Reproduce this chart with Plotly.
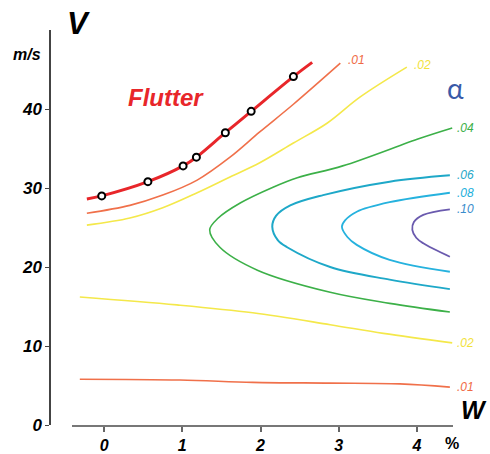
import plotly.graph_objects as go

# ---- data ----
x_ticks = [0, 1, 2, 3, 4]
y_ticks = [0, 10, 20, 30, 40]

flutter_x = [-0.22, -0.03, 0.56, 1.01, 1.18, 1.55, 1.88, 2.42, 2.66]
flutter_y = [28.6, 29.0, 30.8, 32.8, 33.9, 37.0, 39.7, 44.1, 45.9]
flutter_pts_x = [-0.03, 0.56, 1.01, 1.18, 1.55, 1.88, 2.42]
flutter_pts_y = [29.0, 30.8, 32.8, 33.9, 37.0, 39.7, 44.1]

a01_up_x = [-0.22, 0.33, 0.75, 1.19, 1.61, 1.99, 2.42, 3.02]
a01_up_y = [26.8, 27.8, 29.1, 31.0, 33.9, 37.1, 40.6, 45.8]

a02_up_x = [-0.22, 0.33, 0.75, 1.19, 1.61, 1.99, 2.42, 2.85, 3.27, 3.87]
a02_up_y = [25.3, 26.2, 27.5, 29.4, 31.4, 33.2, 35.7, 38.2, 41.5, 45.3]

a04_x = [4.45, 4.04, 3.05, 2.47, 2.16, 1.74, 1.46, 1.35, 1.48, 1.96, 2.89, 3.65, 4.42]
a04_y = [37.6, 36.3, 32.8, 31.3, 30.1, 28.1, 26.2, 24.7, 22.5, 19.6, 16.8, 15.4, 14.3]

a06_x = [4.42, 3.65, 2.80, 2.38, 2.20, 2.15, 2.22, 2.34, 2.89, 3.65, 4.42]
a06_y = [31.6, 30.8, 29.1, 27.8, 26.5, 25.1, 23.4, 22.5, 20.0, 18.4, 17.2]

a08_x = [4.42, 3.65, 3.23, 3.08, 3.04, 3.11, 3.23, 3.65, 4.42]
a08_y = [29.4, 28.2, 27.0, 25.9, 25.1, 23.8, 22.8, 20.9, 19.4]

a10_x = [4.42, 4.08, 3.96, 3.94, 3.99, 4.08, 4.42]
a10_y = [27.3, 26.6, 25.7, 24.7, 23.7, 23.0, 21.3]

a02_lo_x = [-0.31, 0.93, 1.90, 2.89, 3.57, 4.45]
a02_lo_y = [16.2, 15.2, 14.2, 12.7, 11.6, 10.4]

a01_lo_x = [-0.31, 0.97, 1.90, 2.89, 3.78, 4.42]
a01_lo_y = [5.8, 5.7, 5.4, 5.3, 5.2, 4.8]

labels = [".01", ".02", ".04", ".06", ".08", ".10", ".02", ".01"]
label_x = [3.09, 3.94, 4.49, 4.49, 4.49, 4.49, 4.49, 4.49]
label_y = [46.2, 45.6, 37.6, 31.6, 29.4, 27.3, 10.4, 4.8]
label_col = ["#f06a45", "#f2e23a", "#3cb048", "#1ea8c8", "#22b0dc", "#3a8ccc", "#f2e23a", "#f06a45"]

RED = "#e8262a"
ORANGE = "#f0704a"
YELLOW = "#f4e84a"
GREEN = "#3cb048"
CYAN6 = "#1ea8c8"
CYAN8 = "#26b2de"
PURPLE = "#6a5aae"

FONT = "Liberation Sans, Arial, sans-serif"

# plot-area geometry (pixels)
L, R, T, B = 50, 37, 30, 29
W_PX, H_PX = 490, 454
PW, PH = W_PX - L - R, H_PX - T - B
X_DOM0 = 22 / PW
X_RANGE = [-0.41, 4.46]
Y_RANGE = [0, 50]

def data_to_paper(x, y):
    fx = X_DOM0 + (x - X_RANGE[0]) / (X_RANGE[1] - X_RANGE[0]) * (1 - X_DOM0)
    fy = (y - Y_RANGE[0]) / (Y_RANGE[1] - Y_RANGE[0])
    return fx, fy

fig = go.Figure()

def add_line(xs, ys, color, width):
    fig.add_trace(go.Scatter(x=xs, y=ys, mode="lines",
                             line=dict(color=color, width=width, shape="spline", smoothing=1.0),
                             hoverinfo="skip", showlegend=False, cliponaxis=False))

add_line(a01_lo_x, a01_lo_y, ORANGE, 1.6)
add_line(a02_lo_x, a02_lo_y, YELLOW, 1.6)
add_line(a02_up_x, a02_up_y, YELLOW, 1.6)
add_line(a04_x, a04_y, GREEN, 1.6)
add_line(a06_x, a06_y, CYAN6, 2.0)
add_line(a08_x, a08_y, CYAN8, 1.8)
add_line(a10_x, a10_y, PURPLE, 1.8)
add_line(a01_up_x, a01_up_y, ORANGE, 1.6)
add_line(flutter_x, flutter_y, RED, 3)

fig.add_trace(go.Scatter(x=flutter_pts_x, y=flutter_pts_y, mode="markers",
                         marker=dict(symbol="circle", size=7, color="white",
                                     line=dict(color="black", width=2)),
                         hoverinfo="skip", showlegend=False, cliponaxis=False))

ann = []
for t, x, y, c in zip(labels, label_x, label_y, label_col):
    px_, py_ = data_to_paper(x, y)
    ann.append(dict(text=t, x=px_, y=py_, xref="paper", yref="paper", showarrow=False,
                    xanchor="left", yanchor="middle",
                    font=dict(family=FONT, size=12, color=c, style="italic")))

def pix(text, px, py, size, color="black", weight="bold", style="italic", xanchor="center", family=FONT):
    return dict(text=text, x=(px - L) / PW, y=(H_PX - B - py) / PH, xref="paper", yref="paper",
                showarrow=False, xanchor=xanchor, yanchor="middle",
                font=dict(family=family, size=size, color=color, weight=weight, style=style))

ann.append(pix("V", 78, 24, 31))
ann.append(pix("m/s", 27, 54, 16))
ann.append(pix("W", 489, 410, 25, xanchor="right"))
ann.append(pix("%", 452, 443, 16, style="normal"))
ann.append(pix("Flutter", 166, 97, 24, color=RED))
ann.append(pix("α", 455, 88, 28, color="#3a5aa8", weight="normal", style="normal", family="Lato, Noto Sans, sans-serif"))

fig.update_layout(
    width=W_PX, height=H_PX,
    margin=dict(l=L, r=R, t=T, b=B, autoexpand=False),
    paper_bgcolor="white", plot_bgcolor="white",
    annotations=ann,
    xaxis=dict(domain=[X_DOM0, 1], range=X_RANGE, tickvals=x_ticks, automargin=False,
               ticktext=[str(v) for v in x_ticks],
               showgrid=False, zeroline=False, showline=True, linecolor="#777777", linewidth=2,
               ticks="outside", ticklen=5, tickwidth=1.5, tickcolor="#666666",
               tickfont=dict(family=FONT, size=16, color="black", weight="bold", style="italic")),
    yaxis=dict(anchor="free", position=0, range=Y_RANGE, tickvals=y_ticks, automargin=False,
               ticktext=[str(v) for v in y_ticks],
               showgrid=False, zeroline=False, showline=True, linecolor="#444444", linewidth=1.5,
               ticks="outside", ticklen=4, tickwidth=1.2, tickcolor="#444444",
               tickfont=dict(family=FONT, size=17, color="black", weight="bold", style="italic")),
)

fig.write_html("out.html", config={"displayModeBar": False},
               post_script="document.body.style.margin='0';document.body.style.padding='0';"
                           "document.body.style.overflow='hidden';")
